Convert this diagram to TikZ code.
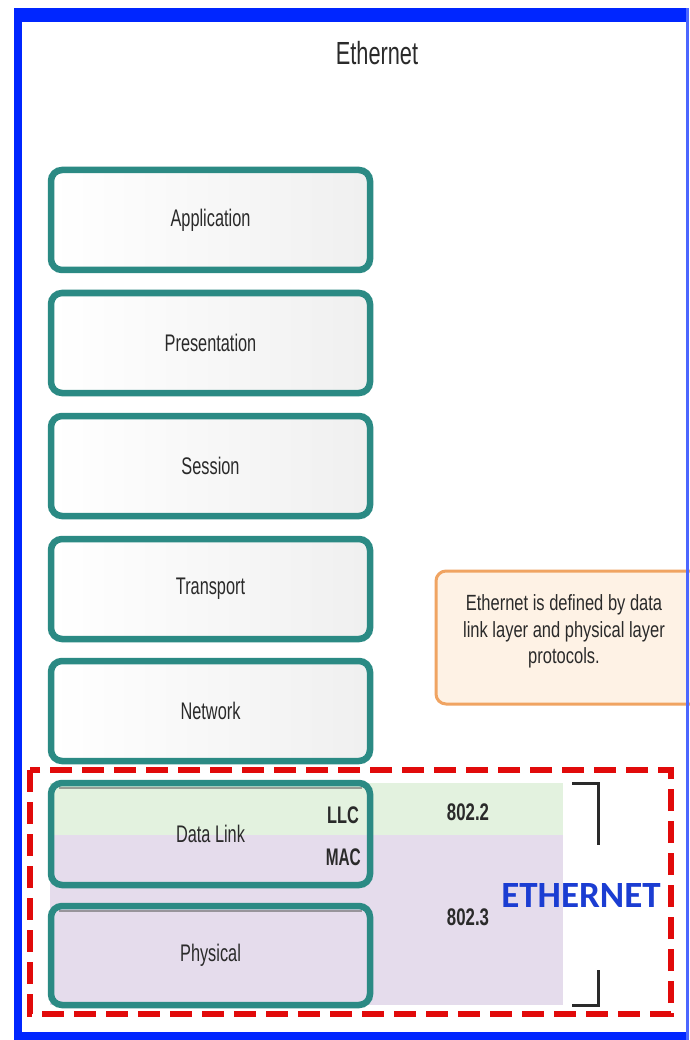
\documentclass[tikz,border=0pt]{standalone}
\usepackage{fontspec}
\setmainfont{Liberation Sans}
\newfontfamily\calib{Carlito}
\usetikzlibrary{positioning}

\definecolor{frameblue}{HTML}{0026FF}
\definecolor{layerteal}{HTML}{2B8A84}
\definecolor{llcgreen}{HTML}{E3F2DF}
\definecolor{macpurple}{HTML}{E5DCEC}
\definecolor{dashred}{HTML}{E10A0A}
\definecolor{noteorange}{HTML}{F0A462}
\definecolor{notefill}{HTML}{FEF2E5}
\definecolor{ethblue}{HTML}{1B3DD2}
\definecolor{txtgray}{HTML}{2A2A2A}

% horizontally condensed text
\newcommand{\narrowtxt}[2][0.68]{\scalebox{#1}[1]{#2}}

\tikzset{
  layerbox/.style={draw=layerteal, line width=6.5pt, rounded corners=11pt,
    minimum width=319pt, inner sep=0pt, outer sep=0pt, text=txtgray,
    font=\fontsize{24}{28}\selectfont},
  filledlayer/.style={layerbox, left color=white, right color=black!6},
  openlayer/.style={layerbox},
  sublabel/.style={text=txtgray, font=\bfseries\fontsize{24}{28}\selectfont, inner sep=0pt, anchor=east},
  stdlabel/.style={text=txtgray, font=\bfseries\fontsize{24}{28}\selectfont, inner sep=0pt},
  bracketline/.style={draw=txtgray, line width=3pt},
}

\begin{document}
\begin{tikzpicture}[x=1pt, y=-1pt]
\useasboundingbox (0,0) rectangle (689,1040);
\fill[white] (0,0) rectangle (689,1040);

% title
\node[text=txtgray, font=\fontsize{32}{36}\selectfont] (title) at (377,53) {\narrowtxt{Ethernet}};

% protocol bands behind the two lower layers
\fill[llcgreen] (50,783) rectangle (563,835);
\fill[macpurple] (50,835) rectangle (563,1005);

% OSI layer stack
\node[filledlayer, minimum height=100pt] (app)  at (210.5,220) {\narrowtxt{Application}};
\node[filledlayer, minimum height=100pt] (pres) at (210.5,343) {\narrowtxt{Presentation}};
\node[filledlayer, minimum height=100pt] (sess) at (210.5,466) {\narrowtxt{Session}};
\node[filledlayer, minimum height=100pt] (trans) at (210.5,589) {\narrowtxt{Transport}};
\node[filledlayer, minimum height=100pt] (net)  at (210.5,711) {\narrowtxt{Network}};
\node[openlayer, minimum height=102pt] (dl)   at (210.5,834) {\narrowtxt{Data Link}};
\node[openlayer, minimum height=99pt]  (phy)  at (210.5,955.5) {\narrowtxt{Physical}};

% inner top shading of the two lower layers
\draw[black!60, line width=2pt, opacity=.6] ([xshift=8pt,yshift=-4.5pt]dl.north west) -- ([xshift=-8pt,yshift=-4.5pt]dl.north east);
\draw[black!60, line width=2pt, opacity=.6] ([xshift=8pt,yshift=-4.5pt]phy.north west) -- ([xshift=-8pt,yshift=-4.5pt]phy.north east);

% sublayers and standards
\node[sublabel] (llc) at (359,815) {\narrowtxt[0.68]{LLC}};
\node[sublabel] (mac) at (361,857) {\narrowtxt[0.64]{MAC}};
\node[stdlabel] (std2) at (468,812) {\narrowtxt[0.7]{802.2}};
\node[stdlabel] (std3) at (468,917) {\narrowtxt[0.7]{802.3}};

% bracket around the Ethernet standards
\coordinate (bt0) at (572,783);
\coordinate (bt1) at (598,783);
\coordinate (bt2) at (598,845);
\coordinate (bb0) at (572,1005);
\coordinate (bb1) at (598,1005);
\coordinate (bb2) at (598,970);
\draw[bracketline] (bt0) -- (bt1) -- (bt2);
\draw[bracketline] (bb0) -- (bb1) -- (bb2);

\node[text=ethblue, font=\calib\bfseries\fontsize{37}{40}\selectfont, inner sep=0pt] (eth) at (581,895) {ETHERNET};

% note
\draw[noteorange, fill=notefill, line width=3pt, rounded corners=10pt] (436,571) rectangle (700,704);
\node[text=txtgray, font=\fontsize{22}{26.5}\selectfont, inner sep=0pt] (note) at (564,632)
  {\narrowtxt[0.75]{\begin{tabular}{@{}c@{}}Ethernet is defined by data\\link layer and physical layer\\protocols.\end{tabular}}};

% dashed outline of the Ethernet scope
\draw[dashred, line width=6pt, dash pattern=on 22pt off 10pt] (30,770) rectangle (671,1014);

% blue frame
\fill[frameblue] (14,8) rectangle (689,22);
\fill[frameblue] (14,8) rectangle (22,1040);
\fill[frameblue] (14,1032) rectangle (689,1040);
\fill[frameblue!70] (685.5,8) rectangle (689,1040);
\end{tikzpicture}
\end{document}
